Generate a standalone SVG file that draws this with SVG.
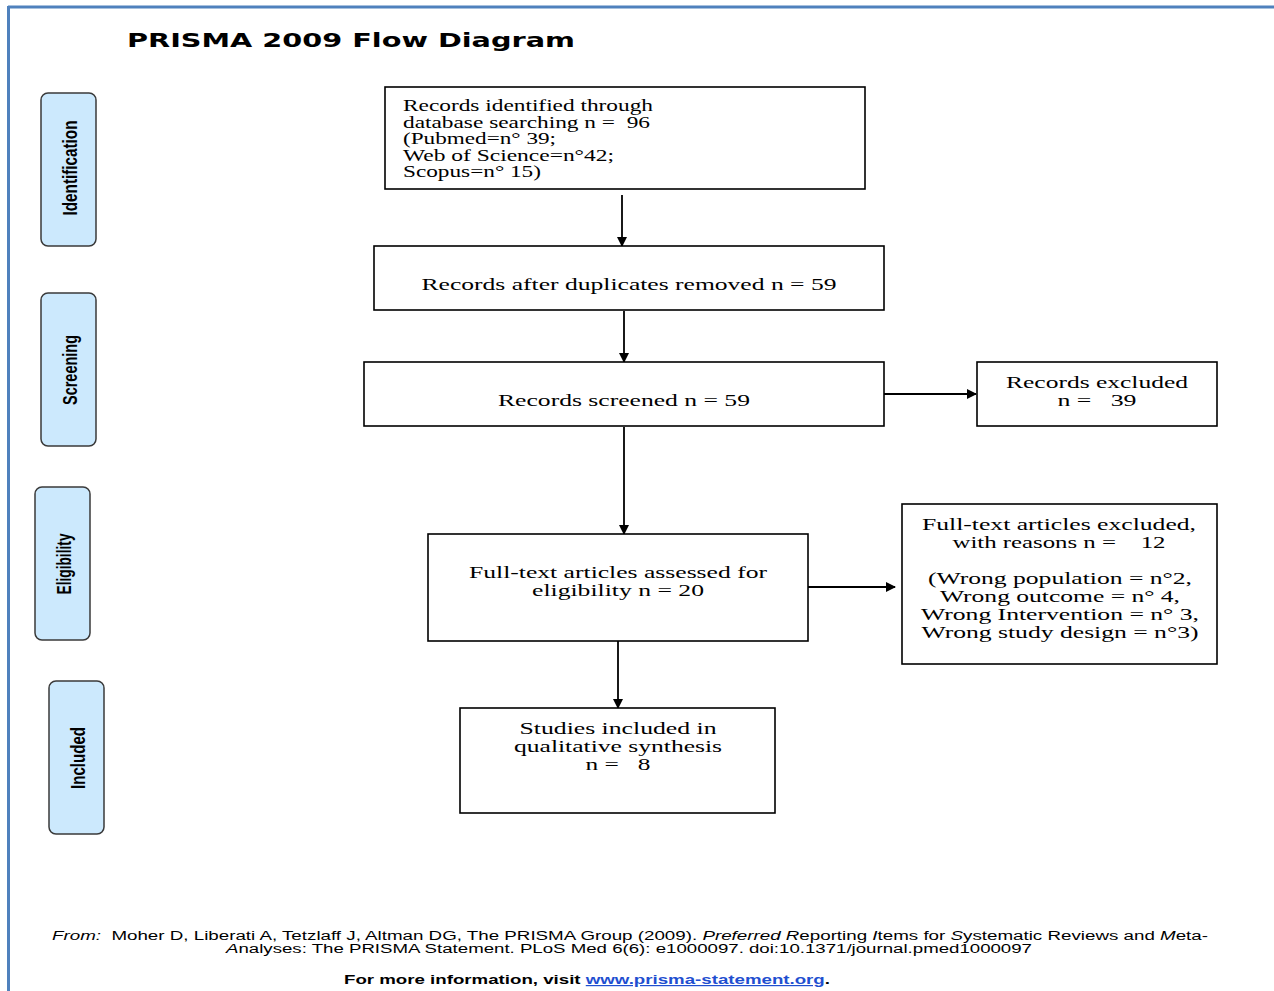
<svg xmlns="http://www.w3.org/2000/svg" width="1274" height="991" viewBox="0 0 1274 991">
<style>
.box{fill:#fff;stroke:#000;stroke-width:1.6}
.side{fill:#cce9fd;stroke:#3a3a3a;stroke-width:1.5}
.t{font-family:"Liberation Serif","Times New Roman",serif;font-size:16px;fill:#000;white-space:pre}
.c{text-anchor:middle}
.s{font-family:"Liberation Sans",Arial,sans-serif;font-weight:bold;font-size:21px;fill:#000;text-anchor:middle}
.f{font-family:"Liberation Sans",Arial,sans-serif;font-size:12px;fill:#000;white-space:pre}
.conn{stroke:#000;stroke-width:1.8;fill:none}
</style>
<defs>
<marker id="ah" markerWidth="10" markerHeight="10" refX="9" refY="5" orient="auto" markerUnits="userSpaceOnUse">
<path d="M0,0 L10,5 L0,10 Z" fill="#000"/>
</marker>
</defs>
<rect width="1274" height="991" fill="#fff"/>
<g id="frame">
<line x1="8" y1="7" x2="1274" y2="7" stroke="#4f81bd" stroke-width="3"/>
<line x1="8.5" y1="6" x2="8.5" y2="991" stroke="#4f81bd" stroke-width="3"/>
</g>
<g id="title">
<text x="127" y="47" font-family="'DejaVu Sans',Verdana,sans-serif" font-weight="bold" font-size="20" textLength="448" lengthAdjust="spacingAndGlyphs">PRISMA 2009 Flow Diagram</text>
</g>
<g id="side-identification">
<rect class="side" x="41" y="93" width="55" height="153" rx="7"/>
<text class="s" transform="translate(77,168) rotate(-90)" textLength="95" lengthAdjust="spacingAndGlyphs">Identification</text>
</g>
<g id="side-screening">
<rect class="side" x="41" y="293" width="55" height="153" rx="7"/>
<text class="s" transform="translate(77,370) rotate(-90)" textLength="70" lengthAdjust="spacingAndGlyphs">Screening</text>
</g>
<g id="side-eligibility">
<rect class="side" x="35" y="487" width="55" height="153" rx="7"/>
<text class="s" transform="translate(71,564) rotate(-90)" textLength="61" lengthAdjust="spacingAndGlyphs">Eligibility</text>
</g>
<g id="side-included">
<rect class="side" x="49" y="681" width="55" height="153" rx="7"/>
<text class="s" transform="translate(85,758) rotate(-90)" textLength="62" lengthAdjust="spacingAndGlyphs">Included</text>
</g>
<g id="connectors">
<line class="conn" x1="622" y1="195" x2="622" y2="246" marker-end="url(#ah)"/>
<line class="conn" x1="624" y1="311" x2="624" y2="362" marker-end="url(#ah)"/>
<line class="conn" x1="884" y1="394" x2="976" y2="394" marker-end="url(#ah)"/>
<line class="conn" x1="624" y1="427" x2="624" y2="534" marker-end="url(#ah)"/>
<line class="conn" x1="808" y1="587" x2="895" y2="587" marker-end="url(#ah)"/>
<line class="conn" x1="618" y1="641" x2="618" y2="708" marker-end="url(#ah)"/>
</g>
<g id="n-identified">
<rect class="box" x="385" y="87" width="480" height="102"/>
<text class="t" x="403" y="111" textLength="250" lengthAdjust="spacingAndGlyphs">Records identified through</text>
<text class="t" x="403" y="128" textLength="247" lengthAdjust="spacingAndGlyphs">database searching n =  96</text>
<text class="t" x="403" y="144" textLength="153" lengthAdjust="spacingAndGlyphs">(Pubmed=n° 39;</text>
<text class="t" x="403" y="161" textLength="211" lengthAdjust="spacingAndGlyphs">Web of Science=n°42;</text>
<text class="t" x="403" y="177" textLength="138" lengthAdjust="spacingAndGlyphs">Scopus=n° 15)</text>
</g>
<g id="n-duplicates">
<rect class="box" x="374" y="246" width="510" height="64"/>
<text class="t c" x="629" y="290" textLength="415" lengthAdjust="spacingAndGlyphs">Records after duplicates removed n = 59</text>
</g>
<g id="n-screened">
<rect class="box" x="364" y="362" width="520" height="64"/>
<text class="t c" x="624" y="406" textLength="252" lengthAdjust="spacingAndGlyphs">Records screened n = 59</text>
</g>
<g id="n-excluded">
<rect class="box" x="977" y="362" width="240" height="64"/>
<text class="t c" x="1097" y="388" textLength="182" lengthAdjust="spacingAndGlyphs">Records excluded</text>
<text class="t c" x="1097" y="406" textLength="79" lengthAdjust="spacingAndGlyphs">n =   39</text>
</g>
<g id="n-fulltext">
<rect class="box" x="428" y="534" width="380" height="107"/>
<text class="t c" x="618" y="578" textLength="298" lengthAdjust="spacingAndGlyphs">Full-text articles assessed for</text>
<text class="t c" x="618" y="596" textLength="172" lengthAdjust="spacingAndGlyphs">eligibility n = 20</text>
</g>
<g id="n-fulltext-excluded">
<rect class="box" x="902" y="504" width="315" height="160"/>
<text class="t c" x="1059" y="530" textLength="274" lengthAdjust="spacingAndGlyphs">Full-text articles excluded,</text>
<text class="t c" x="1059" y="548" textLength="213" lengthAdjust="spacingAndGlyphs">with reasons n =    12</text>
<text class="t c" x="1060" y="584" textLength="264" lengthAdjust="spacingAndGlyphs">(Wrong population = n°2,</text>
<text class="t c" x="1060" y="602" textLength="240" lengthAdjust="spacingAndGlyphs">Wrong outcome = n° 4,</text>
<text class="t c" x="1060" y="620" textLength="278" lengthAdjust="spacingAndGlyphs">Wrong Intervention = n° 3,</text>
<text class="t c" x="1060" y="638" textLength="277" lengthAdjust="spacingAndGlyphs">Wrong study design = n°3)</text>
</g>
<g id="n-included">
<rect class="box" x="460" y="708" width="315" height="105"/>
<text class="t c" x="618" y="734" textLength="197" lengthAdjust="spacingAndGlyphs">Studies included in</text>
<text class="t c" x="618" y="752" textLength="208" lengthAdjust="spacingAndGlyphs">qualitative synthesis</text>
<text class="t c" x="618" y="770" textLength="65" lengthAdjust="spacingAndGlyphs">n =   8</text>
</g>
<g id="footer">
<text class="f" x="52" y="940" textLength="1156" lengthAdjust="spacingAndGlyphs"><tspan font-style="italic">From:</tspan>  Moher D, Liberati A, Tetzlaff J, Altman DG, The PRISMA Group (2009). <tspan font-style="italic">Preferred R</tspan>eporting <tspan font-style="italic">I</tspan>tems for <tspan font-style="italic">S</tspan>ystematic Reviews and <tspan font-style="italic">M</tspan>eta-</text>
<text class="f" x="226" y="953" textLength="806" lengthAdjust="spacingAndGlyphs"><tspan font-style="italic">A</tspan>nalyses: The PRISMA Statement. PLoS Med 6(6): e1000097. doi:10.1371/journal.pmed1000097</text>
<text class="f" x="344" y="984" font-weight="bold" textLength="486" lengthAdjust="spacingAndGlyphs">For more information, visit <tspan fill="#1f4fd0" text-decoration="underline">www.prisma-statement.org</tspan>.</text>
</g>
</svg>
